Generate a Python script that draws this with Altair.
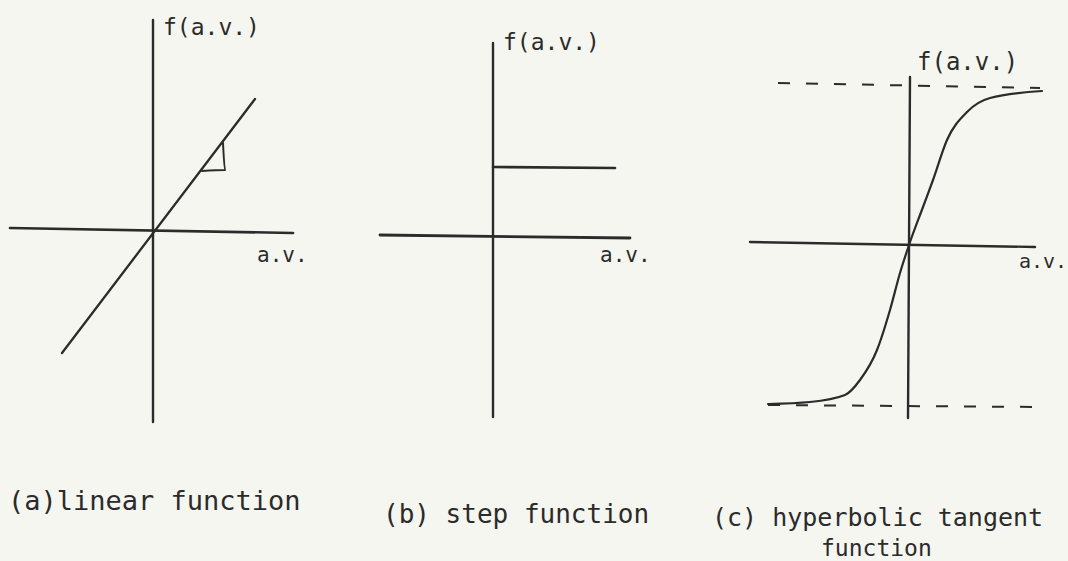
import altair as alt
import pandas as pd

W, H = 1068, 561
UNIT = 100          # canvas pixels per function unit
INK = "#2b2b2b"
PAPER = "#f5f6ef"
FONT = "DejaVu Sans Mono"

# where each panel's origin (a.v. = 0, f = 0) sits on the canvas
ORIGIN = {"a": (153, 230), "b": (493, 236), "c": (909, 245)}

# ---- strokes, in function units (a.v., f) ----
# (a) linear function
a_xaxis_av, a_xaxis_f = [-1.43, 1.40], [0.02, -0.03]
a_yaxis_av, a_yaxis_f = [0.0, 0.0], [2.10, -1.92]
a_line_av, a_line_f = [-0.91, 1.02], [-1.23, 1.31]
a_slope_av, a_slope_f = [0.49, 0.72, 0.70], [0.59, 0.60, 0.87]

# (b) step function
b_xaxis_av, b_xaxis_f = [-1.13, 1.37], [0.01, -0.02]
b_yaxis_av, b_yaxis_f = [0.0, 0.0], [1.93, -1.81]
b_step_av, b_step_f = [0.0, 1.22], [0.69, 0.68]

# (c) hyperbolic tangent function
c_xaxis_av, c_xaxis_f = [-1.59, 1.26], [0.03, -0.02]
c_yaxis_av, c_yaxis_f = [0.01, -0.01], [1.68, -1.73]
c_curve_av = [-1.41, -0.99, -0.64, -0.49, -0.32, -0.19, -0.09, 0.0,
              0.14, 0.24, 0.38, 0.58, 0.81, 1.33]
c_curve_f = [-1.59, -1.57, -1.50, -1.35, -1.05, -0.65, -0.28, 0.0,
             0.38, 0.65, 1.05, 1.33, 1.47, 1.54]
c_upper_av, c_upper_f = [-1.31, 1.31], [1.62, 1.57]
c_lower_av, c_lower_f = [-1.41, 1.28], [-1.60, -1.62]

# ---- labels, anchored at the left end of their baseline ----
label_panel = ["a", "a", "b", "b", "c", "c"]
label_text = ["f(a.v.)", "a.v.", "f(a.v.)", "a.v.", "f(a.v.)", "a.v."]
label_av = [0.10, 1.04, 0.10, 1.07, 0.08, 1.10]
label_f = [1.95, -0.32, 1.86, -0.26, 1.75, -0.23]
label_size = [23, 21, 23, 21, 24, 20]

caption_text = ["(a)linear function", "(b) step function",
                "(c) hyperbolic tangent", "function"]
caption_panel = ["a", "b", "c", "c"]
caption_av = [-1.45, -1.10, -1.97, -0.88]
caption_f = [-2.80, -2.87, -2.81, -3.11]
caption_size = [27, 26, 25, 23]


def to_canvas(panel, av, f):
    ox, oy = ORIGIN[panel]
    return ox + av * UNIT, oy - f * UNIT


solid = [
    ("a", "a-x", a_xaxis_av, a_xaxis_f, 2.6),
    ("a", "a-y", a_yaxis_av, a_yaxis_f, 2.4),
    ("a", "a-line", a_line_av, a_line_f, 2.3),
    ("a", "a-slope", a_slope_av, a_slope_f, 2.0),
    ("b", "b-x", b_xaxis_av, b_xaxis_f, 2.8),
    ("b", "b-y", b_yaxis_av, b_yaxis_f, 2.4),
    ("b", "b-step", b_step_av, b_step_f, 2.6),
    ("c", "c-x", c_xaxis_av, c_xaxis_f, 2.4),
    ("c", "c-y", c_yaxis_av, c_yaxis_f, 2.4),
    ("c", "c-curve", c_curve_av, c_curve_f, 2.2),
]
dashed = [
    ("c", "c-upper", c_upper_av, c_upper_f, 2.0),
    ("c", "c-lower", c_lower_av, c_lower_f, 2.0),
]


def stroke_rows(strokes):
    rows = []
    for panel, name, avs, fs, w in strokes:
        for i, (av, f) in enumerate(zip(avs, fs)):
            x, y = to_canvas(panel, av, f)
            rows.append({"stroke": name, "seq": i, "x": x, "y": y, "w": w})
    return pd.DataFrame(rows)


solid_df = stroke_rows(solid)
dashed_df = stroke_rows(dashed)

text_rows = []
for p, t, av, f, s in zip(label_panel, label_text, label_av, label_f, label_size):
    x, y = to_canvas(p, av, f)
    text_rows.append({"text": t, "x": x, "y": y, "fs": s})
for p, t, av, f, s in zip(caption_panel, caption_text, caption_av, caption_f, caption_size):
    x, y = to_canvas(p, av, f)
    text_rows.append({"text": t, "x": x, "y": y, "fs": s})
text_df = pd.DataFrame(text_rows)

xs = alt.Scale(domain=[0, W], nice=False, zero=False)
ys = alt.Scale(domain=[0, H], nice=False, zero=False, reverse=True)
X = alt.X("x:Q", scale=xs, axis=None)
Y = alt.Y("y:Q", scale=ys, axis=None)

solid_layer = alt.Chart(solid_df).mark_line(
    color=INK, strokeCap="round", strokeJoin="round", interpolate="monotone"
).encode(
    x=X, y=Y, detail="stroke:N", order="seq:Q",
    strokeWidth=alt.StrokeWidth("w:Q", scale=None),
)

dashed_layer = alt.Chart(dashed_df).mark_line(
    color=INK, strokeDash=[12, 16], strokeCap="butt"
).encode(
    x=X, y=Y, detail="stroke:N", order="seq:Q",
    strokeWidth=alt.StrokeWidth("w:Q", scale=None),
)

text_layer = alt.Chart(text_df).mark_text(
    align="left", baseline="alphabetic", font=FONT, color=INK
).encode(
    x=X, y=Y, text="text:N", size=alt.Size("fs:Q", scale=None),
)

chart = alt.layer(dashed_layer, solid_layer, text_layer).properties(
    width=W, height=H, autosize=alt.AutoSizeParams(type="none"),
    padding=0, background=PAPER,
).configure_view(stroke=None)

chart.save("out.html", embed_options={"renderer": "svg", "actions": False})
